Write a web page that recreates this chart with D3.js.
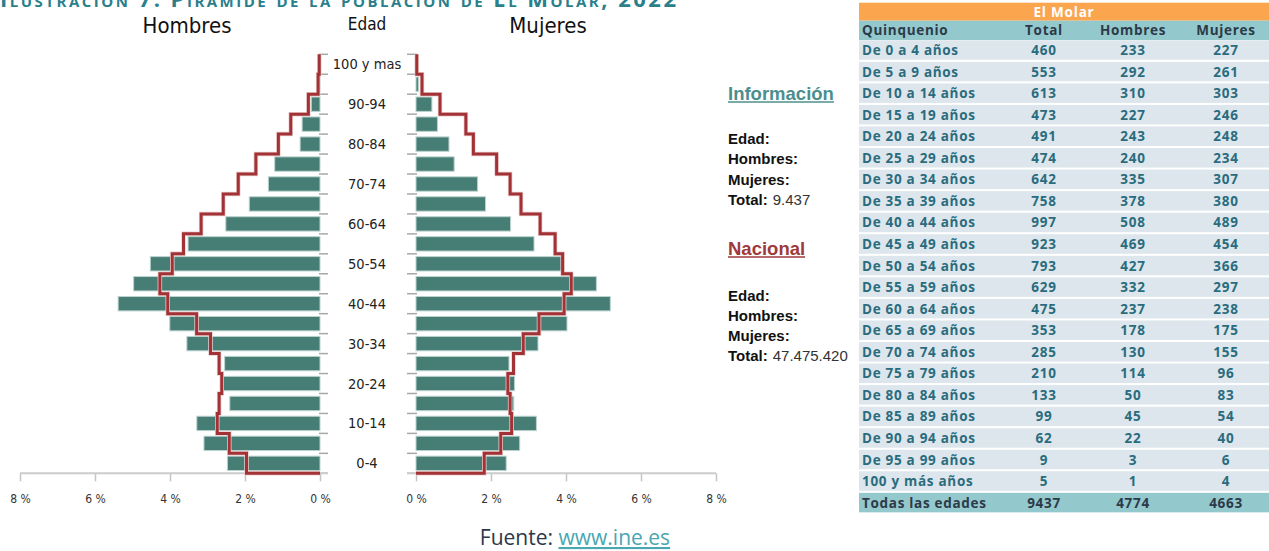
<!DOCTYPE html>
<html>
<head>
<meta charset="utf-8">
<script src="https://cdn.jsdelivr.net/npm/d3@7"></script>
<style>
  html, body { margin: 0; padding: 0; background: #fff; }
  svg { display: block; }
</style>
</head>
<body>
<svg id="chart" width="1269" height="551"></svg>
<script>
// ---------------- DATA ----------------
const ages = ["0-4","5-9","10-14","15-19","20-24","25-29","30-34","35-39","40-44","45-49",
              "50-54","55-59","60-64","65-69","70-74","75-79","80-84","85-89","90-94","95-99","100 y mas"];
const quinquenios = ["De 0 a 4 años","De 5 a 9 años","De 10 a 14 años","De 15 a 19 años","De 20 a 24 años",
  "De 25 a 29 años","De 30 a 34 años","De 35 a 39 años","De 40 a 44 años","De 45 a 49 años",
  "De 50 a 54 años","De 55 a 59 años","De 60 a 64 años","De 65 a 69 años","De 70 a 74 años",
  "De 75 a 79 años","De 80 a 84 años","De 85 a 89 años","De 90 a 94 años","De 95 a 99 años","100 y más años"];
const totales  = [460,553,613,473,491,474,642,758,997,923,793,629,475,353,285,210,133,99,62,9,5];
const hombres  = [233,292,310,227,243,240,335,378,508,469,427,332,237,178,130,114,50,45,22,3,1];
const mujeres  = [227,261,303,246,248,234,307,380,489,454,366,297,238,175,155,96,83,54,40,6,4];
const totalGeneral = 9437, totalHombres = 4774, totalMujeres = 4663;
// National profile (% of national population)
const nacionalHombres = [1.96,2.42,2.74,2.69,2.62,2.69,2.92,3.29,4.06,4.27,3.94,3.64,3.17,2.58,2.18,1.71,1.11,0.78,0.31,0.05,0.02];
const nacionalMujeres = [1.82,2.26,2.55,2.51,2.45,2.60,2.86,3.28,3.95,4.14,3.91,3.71,3.31,2.80,2.51,2.15,1.53,1.33,0.64,0.16,0.02];
const xTicks = [0,2,4,6,8];
const labelAges = ["0-4","10-14","20-24","30-34","40-44","50-54","60-64","70-74","80-84","90-94","100 y mas"];
const totalNacional = "47.475.420";
const tituloTexto = "Ilustración 7: Pirámide de la población de El Molar, 2022";

// ---------------- SETUP ----------------
const svg = d3.select("#chart");
const condensed = "'DejaVu Sans Condensed','DejaVu Sans',sans-serif";
const barFill = "#467d75", barStroke = "#bcd3ce", natColor = "#a23236";

const xL = d3.scaleLinear().domain([0,8]).range([320,20]);
const xR = d3.scaleLinear().domain([0,8]).range([416,716]);
const y = d3.scaleBand().domain(ages).range([473.3,54.3]).paddingInner(0.28).paddingOuter(0.14);
const step = y.step();
const yBottom = 473.3;

const pct = v => v / totalGeneral * 100;

// Title (clipped at top, as in the source document)
svg.append("text")
  .attr("x", 0).attr("y", 7)
  .attr("textLength", 676).attr("lengthAdjust", "spacing")
  .style("font-family", "'Open Sans',sans-serif")
  .style("font-weight", 700)
  .style("font-size", "22px")
  .style("font-variant", "small-caps")
  .style("fill", "#2a7f8b")
  .text(tituloTexto);

// Headers
svg.append("text").attr("x", 187).attr("y", 32.5).attr("text-anchor","middle")
  .style("font-family", condensed).style("font-stretch","condensed").style("font-size","22px").style("fill","#111").text("Hombres");
svg.append("text").attr("x", 367).attr("y", 29.5).attr("text-anchor","middle")
  .style("font-family", condensed).style("font-stretch","condensed").style("font-size","17px").style("fill","#111").text("Edad");
svg.append("text").attr("x", 548).attr("y", 32.5).attr("text-anchor","middle")
  .style("font-family", condensed).style("font-stretch","condensed").style("font-size","22px").style("fill","#111").text("Mujeres");

// Bars
const gBars = svg.append("g");
gBars.selectAll("rect.h").data(ages).join("rect").attr("class","h")
  .attr("x", (d,i) => xL(pct(hombres[i])))
  .attr("y", d => y(d))
  .attr("width", (d,i) => xL(0) - xL(pct(hombres[i])))
  .attr("height", y.bandwidth())
  .attr("fill", barFill).attr("stroke", barStroke).attr("stroke-width", 1);
gBars.selectAll("rect.m").data(ages).join("rect").attr("class","m")
  .attr("x", xR(0))
  .attr("y", d => y(d))
  .attr("width", (d,i) => xR(pct(mujeres[i])) - xR(0))
  .attr("height", y.bandwidth())
  .attr("fill", barFill).attr("stroke", barStroke).attr("stroke-width", 1);

// Band boundary ticks
const bounds = d3.range(ages.length + 1).map(i => yBottom - i * step);
svg.append("g").selectAll("line").data(bounds).join("line")
  .attr("x1", xL(0) - 1).attr("x2", xL(0) + 8).attr("y1", d => d).attr("y2", d => d)
  .attr("stroke", "#a8a8a8").attr("stroke-width", 1.5);
svg.append("g").selectAll("line").data(bounds).join("line")
  .attr("x1", xR(0) - 9).attr("x2", xR(0) + 1).attr("y1", d => d).attr("y2", d => d)
  .attr("stroke", "#a8a8a8").attr("stroke-width", 1.5);

// Age labels
svg.append("g").selectAll("text").data(labelAges).join("text")
  .attr("x", 367).attr("y", d => y(d) + y.bandwidth()/2 + 5)
  .attr("text-anchor", "middle")
  .style("font-family", condensed).style("font-stretch","condensed").style("font-size","14.5px").style("fill","#222")
  .text(d => d);

// Bottom axes
function drawAxis(scale, x1, x2) {
  const g = svg.append("g").attr("transform", `translate(0,${yBottom})`);
  g.call(d3.axisBottom(scale).tickValues(xTicks).tickFormat(d => d + " %").tickSize(8).tickSizeOuter(0));
  g.select(".domain").remove();
  g.selectAll(".tick line").attr("stroke", "#c4c4c4").attr("stroke-width", 1.5);
  g.selectAll(".tick text").attr("dy", 0).attr("y", 29.5)
    .style("font-family", condensed).style("font-stretch","condensed").style("font-size","12px").style("fill","#333");
  g.append("line").attr("x1", x1).attr("x2", x2).attr("y1", 0).attr("y2", 0)
    .attr("stroke", "#cccccc").attr("stroke-width", 2);
}
drawAxis(xL, xL(8), xL(0) + 8);
drawAxis(xR, xR(0) - 9, xR(8));

// National outline (step line)
function stepPoints(scale, values) {
  const pts = [[scale(0), yBottom]];
  values.forEach((v, i) => {
    const b = yBottom - i * step, t = b - step;
    pts.push([scale(v), b]);
    pts.push([scale(v), t]);
  });
  return pts;
}
const line = d3.line();
[[xL, nacionalHombres], [xR, nacionalMujeres]].forEach(([sc, vals]) => {
  const p = line(stepPoints(sc, vals));
  svg.append("path").attr("d", p).attr("fill", "none")
    .attr("stroke", "#ecd0d0").attr("stroke-width", 4.5).attr("stroke-linejoin","miter");
  svg.append("path").attr("d", p).attr("fill", "none")
    .attr("stroke", natColor).attr("stroke-width", 3).attr("stroke-linejoin","miter");
});

// Info panel
const arial = "'Liberation Sans',Arial,sans-serif";
function heading(txt, yy, color) {
  const t = svg.append("text").attr("x", 728).attr("y", yy)
    .style("font-family", arial).style("font-weight", 700).style("font-size", "18.5px").style("fill", color).text(txt);
  const w = t.node().getComputedTextLength();
  svg.append("line").attr("x1", 728).attr("x2", 728 + w).attr("y1", yy + 2).attr("y2", yy + 2)
    .attr("stroke", color).attr("stroke-width", 1.5);
}
function infoBlock(y0, totalTxt) {
  const labels = ["Edad:", "Hombres:", "Mujeres:", "Total:"];
  labels.forEach((l, i) => {
    const t = svg.append("text").attr("x", 728).attr("y", y0 + i * 20.3)
      .style("font-family", arial).style("font-weight", 700).style("font-size", "15px").style("fill", "#111");
    t.append("tspan").text(l);
    if (i === 3) t.append("tspan").attr("dx", 5).style("font-weight", 400).style("fill", "#333").text(totalTxt);
  });
}
heading("Información", 100, "#4b8f8d");
infoBlock(144, d3.format(",")(totalGeneral).replace(/,/g, "."));
heading("Nacional", 255, "#9e3a3c");
infoBlock(300.5, totalNacional);

// Table
const tx0 = 859, tx1 = 1269;
const colX = [862, 1044, 1133, 1226];
const tfont = "'Open Sans',sans-serif";
const tg = svg.append("g");
tg.append("rect").attr("x", tx0).attr("y", 2.7).attr("width", tx1 - tx0).attr("height", 18).attr("fill", "#fba54f");
tg.append("text").attr("x", (tx0 + tx1)/2).attr("y", 17).attr("text-anchor","middle")
  .style("font-family", tfont).style("font-weight", 700).style("font-size","13.5px").style("letter-spacing","0.8px")
  .style("fill","#fff").text("El Molar");
tg.append("rect").attr("x", tx0).attr("y", 20.7).attr("width", tx1 - tx0).attr("height", 19.3).attr("fill", "#93c8cd");
const headers = ["Quinquenio","Total","Hombres","Mujeres"];
headers.forEach((h, j) => {
  tg.append("text").attr("x", colX[j]).attr("y", 35).attr("text-anchor", j === 0 ? "start" : "middle")
    .style("font-family", tfont).style("font-weight", 700).style("font-size","13.5px").style("letter-spacing","0.7px")
    .style("fill","#2c3a48").text(h);
});
const rowPitch = 21.55, rowH = 19.5, rowTop0 = 40.3;
const rows = quinquenios.map((q, i) => [q, totales[i], hombres[i], mujeres[i]]);
rows.push(["Todas las edades", totalGeneral, totalHombres, totalMujeres]);
const rg = tg.selectAll("g.row").data(rows).join("g").attr("class","row")
  .attr("transform", (d, i) => `translate(0,${rowTop0 + i * rowPitch})`);
rg.append("rect").attr("x", tx0).attr("y", 0).attr("width", tx1 - tx0).attr("height", rowH)
  .attr("fill", (d, i) => i === rows.length - 1 ? "#93c8cd" : "#dce6ec");
rg.each(function(d, i) {
  const last = i === rows.length - 1;
  d.forEach((v, j) => {
    d3.select(this).append("text").attr("x", colX[j]).attr("y", 14.8)
      .attr("text-anchor", j === 0 ? "start" : "middle")
      .style("font-family", tfont).style("font-weight", 700).style("font-size","13.5px").style("letter-spacing","0.7px")
      .style("fill", last ? "#2c3a48" : "#2a6c7e").text(v);
  });
});

// Source
const src = svg.append("text").attr("x", 575).attr("y", 545).attr("text-anchor","middle")
  .style("font-family", "'Open Sans',sans-serif").style("font-size","21px").style("fill","#2d3748");
src.append("tspan").text("Fuente: ");
src.append("tspan").style("fill","#4aa6b0").style("text-decoration","underline").text("www.ine.es");
</script>
</body>
</html>
